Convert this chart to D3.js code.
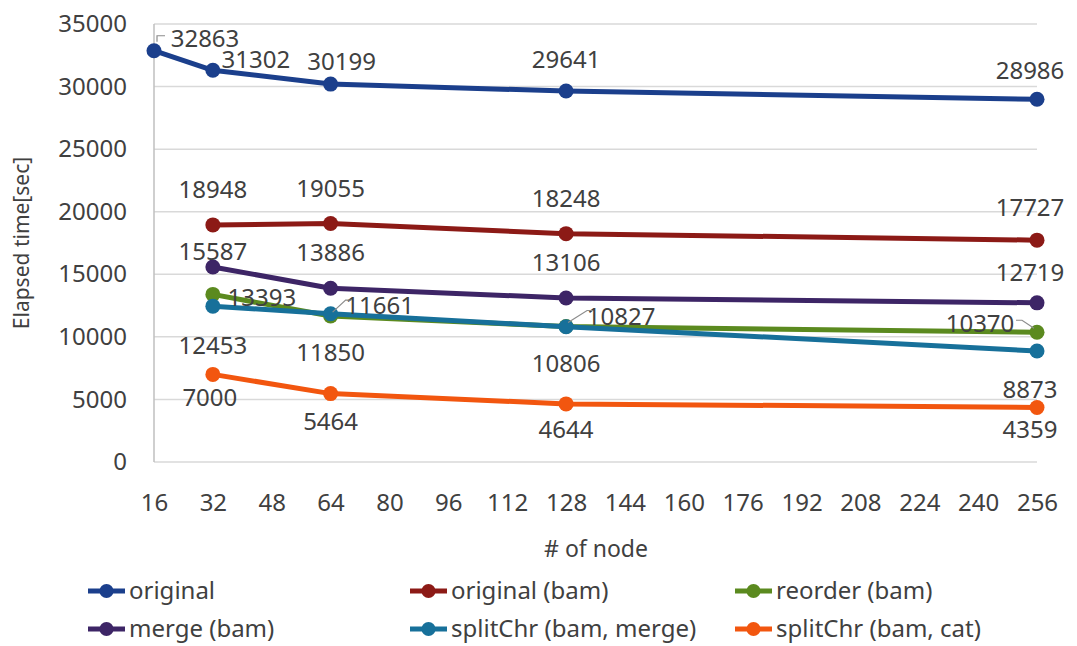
<!DOCTYPE html>
<html><head><meta charset="utf-8">
<script src="https://cdn.jsdelivr.net/npm/d3@7/dist/d3.min.js"></script>
<style>body{margin:0;background:#fff}svg{display:block}text{font-family:"Noto Sans",sans-serif;fill:#404040}</style>
</head><body><svg id="c" width="1077" height="646"></svg>
<script>
// ---- data ----
const nodes = [16, 32, 64, 128, 256];
const xTicks = [16,32,48,64,80,96,112,128,144,160,176,192,208,224,240,256];
const yTicks = [0,5000,10000,15000,20000,25000,30000,35000];
const seriesNames = ["original","original (bam)","reorder (bam)","merge (bam)","splitChr (bam, merge)","splitChr (bam, cat)"];
const original      = [32863, 31302, 30199, 29641, 28986];
const originalBam   = [null, 18948, 19055, 18248, 17727];
const reorderBam    = [null, 13393, 11661, 10827, 10370];
const mergeBam      = [null, 15587, 13886, 13106, 12719];
const splitMerge    = [null, 12453, 11850, 10806, 8873];
const splitCat      = [null, 7000, 5464, 4644, 4359];
const seriesValues = [original, originalBam, reorderBam, mergeBam, splitMerge, splitCat];

// ---- styles / layout ----
const colors = ["#1b3f8c","#8c1a16","#5b8a1f","#3d2566","#17709a","#f2560f"];
// label offsets (dx, dy) relative to point, and leader type (0 none, 1 diagonal, 2 bracket)
const labelOffsets = [
  [[51,-12,2],[43,-11,0],[11,-22,0],[0,-31,0],[-7,-29,0]],
  [null,[0,-35,0],[0,-35,0],[0,-35,0],[-7,-33,0]],
  [null,[49,3,0],[49,-10,1],[55,-10,1],[-57,-9,1]],
  [null,[0,-15,0],[0,-36,0],[0,-35,0],[-7,-30,0]],
  [null,[0,39,0],[0,39,0],[0,37,0],[-7,39,0]],
  [null,[-3,23,0],[0,28,0],[0,26,0],[-7,22,0]]
];

const svg = d3.select("#c");
const m = {l:154, r:1037, t:24, b:462};
const x = d3.scaleLinear().domain([16,256]).range([m.l, m.r]);
const y = d3.scaleLinear().domain([0,35000]).range([m.b, m.t]);

// gridlines
svg.append("g").selectAll("line").data(yTicks).join("line")
  .attr("x1", m.l).attr("x2", m.r).attr("y1", d=>y(d)).attr("y2", d=>y(d))
  .attr("stroke", "#d9d9d9").attr("stroke-width", 1.5);
svg.append("line").attr("x1", m.l).attr("x2", m.l).attr("y1", m.t).attr("y2", m.b)
  .attr("stroke", "#bfbfbf").attr("stroke-width", 1.5);

// y axis
const yAxis = d3.axisLeft(y).tickValues(yTicks).tickSize(0).tickPadding(27).tickFormat(d3.format("d"));
const gy = svg.append("g").attr("transform", `translate(${m.l},0)`).call(yAxis);
gy.select(".domain").remove();
gy.selectAll("text").style("font-size","24px").attr("fill","#404040").style("font-family","Noto Sans");

// x axis
const xAxis = d3.axisBottom(x).tickValues(xTicks).tickSize(0).tickPadding(32).tickFormat(d3.format("d"));
const gx = svg.append("g").attr("transform", `translate(0,${m.b})`).call(xAxis);
gx.select(".domain").remove();
gx.selectAll("text").style("font-size","24px").attr("fill","#404040").style("font-family","Noto Sans");

// axis titles
svg.append("text").attr("x", 596).attr("y", 557).attr("text-anchor","middle")
  .style("font-size","23px").text("# of node");
svg.append("text").attr("transform","translate(29,243) rotate(-90)").attr("text-anchor","middle")
  .style("font-size","21px").text("Elapsed time[sec]");

// lines
const line = d3.line().defined(d=>d.v!=null).x(d=>x(d.n)).y(d=>y(d.v));
seriesValues.forEach((vals, i) => {
  const pts = nodes.map((n,j)=>({n, v: vals[j]}));
  const g = svg.append("g");
  g.append("path").datum(pts).attr("d", line).attr("fill","none")
    .attr("stroke", colors[i]).attr("stroke-width", 5).attr("stroke-linejoin","round");
  g.selectAll("circle").data(pts.filter(d=>d.v!=null)).join("circle")
    .attr("cx", d=>x(d.n)).attr("cy", d=>y(d.v)).attr("r", 7.5).attr("fill", colors[i]);
});

// labels
seriesValues.forEach((vals, i) => {
  nodes.forEach((n, j) => {
    const v = vals[j]; if (v == null) return;
    const [dx, dy, leader] = labelOffsets[i][j];
    const px = x(n), py = y(v);
    const tx = px + dx, ty = py + dy;
    svg.append("text").attr("x", tx).attr("y", ty).attr("dy","0.35em")
      .attr("text-anchor","middle").style("font-size","24px").text(d3.format("d")(v));
    if (leader) {
      let pts;
      if (leader === 2) pts = [[px+3, py-9],[px+3, py-15],[px+11, py-15]];
      else if (dx > 0) pts = [[px+2, py-4],[tx-34, ty-6],[tx-28, ty-6]];
      else pts = [[px-3, py-4],[tx+42, ty-3],[tx+36, ty-3]].reverse();
      svg.append("path").attr("d", d3.line()(pts)).attr("fill","none")
        .attr("stroke","#8c8c8c").attr("stroke-width",1.2);
    }
  });
});

// legend
const legendX = [88, 410, 735];
const legendY = [591, 629];
seriesNames.forEach((name, i) => {
  const lx = legendX[i % 3], ly = legendY[Math.floor(i / 3)];
  const g = svg.append("g").attr("transform", `translate(${lx},${ly})`);
  g.append("line").attr("x1",0).attr("x2",37).attr("y1",0).attr("y2",0)
    .attr("stroke", colors[i]).attr("stroke-width",5);
  g.append("circle").attr("cx",18.5).attr("cy",0).attr("r",7).attr("fill",colors[i]);
  g.append("text").attr("x",41).attr("y",0).attr("dy","0.35em").style("font-size","24px").text(name);
});
</script></body></html>
